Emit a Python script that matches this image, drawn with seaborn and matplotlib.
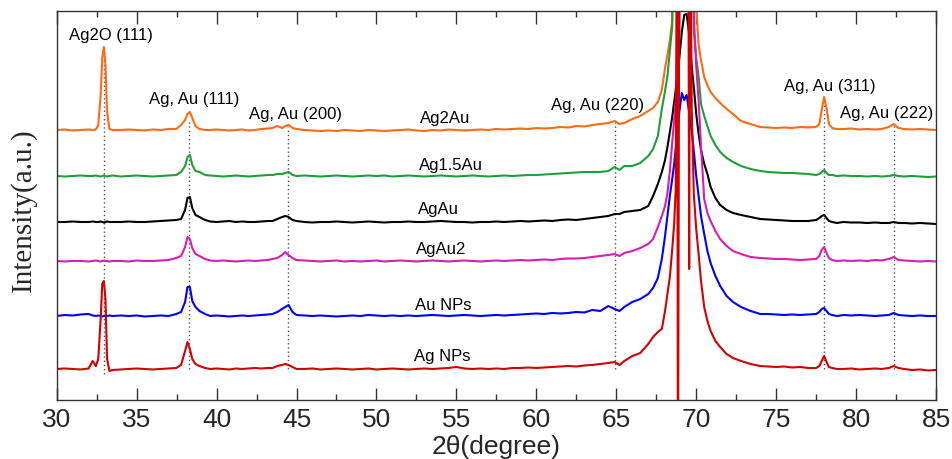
import numpy as np
import pandas as pd
import matplotlib
matplotlib.use("Agg")
import matplotlib.pyplot as plt
import seaborn as sns
from matplotlib.ticker import MultipleLocator

# 2-theta sampling positions (degrees); finer steps across the reflections
two_theta = [
    30.0, 30.5, 31.0, 31.5, 32.0,
    32.25, 32.45, 32.6, 32.75, 32.85, 32.95, 33.05, 33.15, 33.3, 33.5,
    34.0, 34.5, 35.0, 35.5, 36.0, 36.5, 37.0,
    37.48, 37.78, 38.03, 38.18, 38.33, 38.48, 38.68, 38.93, 39.28,
    39.6, 40.0, 40.4, 40.8, 41.2, 41.6, 42.0, 42.4, 42.8, 43.2,
    43.5, 43.8, 44.1, 44.3, 44.5, 44.75, 45.0,
    45.5, 46.0, 46.5, 47.0, 47.5, 48.0, 48.5, 49.0, 49.5, 50.0,
    50.5, 51.0, 51.5, 52.0, 52.5, 53.0, 53.5, 54.0, 54.5, 55.0,
    55.5, 56.0, 56.5, 57.0, 57.5, 58.0, 58.5, 59.0, 59.5, 60.0,
    60.5, 61.0, 61.5, 62.0, 62.5, 63.0, 63.5,
    64.0, 64.5, 64.9, 65.2, 65.5, 66.0, 66.5, 67.0, 67.3, 67.6,
    67.85, 68.05, 68.2, 68.35, 68.5, 68.62, 68.72, 68.80, 68.86, 68.95,
    69.1, 69.25, 69.4, 69.5, 69.56, 69.62, 69.72, 69.85, 70.0, 70.15,
    70.3, 70.5, 70.7, 70.9, 71.2, 71.5, 71.9, 72.3, 72.8, 73.4,
    74.0, 74.5, 75.0, 75.5, 76.0, 76.5, 77.0,
    77.5, 77.7, 77.85, 78.0, 78.15, 78.3, 78.5, 78.8,
    79.2, 79.7, 80.2, 80.7, 81.2, 81.6,
    82.05, 82.35, 82.65,
    83.0, 83.5, 84.0, 84.5, 85.0,
]

# Intensities (a.u.) of each sample, same sampling as two_theta
ag2au = [
    0, 0.5, -0.5, 0, 0.5,
    0, 0.5, 5, 35, 72, 83, 65, 18, 1, 0,
    0, 0.5, 0, -0.5, 0.5, 0, 1,
    1, 5, 10, 16, 18, 12, 4, 1, 0,
    0, 0.5, 0, -0.5, 0, 0.5, -0.5, 0, 1, 1.5,
    2, 4, 2, 4, 5, 2, 1,
    0, -0.5, -1, -0.5, -1, 0, -0.5, -1, 0, -0.5,
    -1, -0.5, 0, 0.5, -0.5, -1, 0, -0.5, 0.5, 0,
    -0.5, 0, 0.5, 0, 1, 0.5, 1, 1.5, 1, 2,
    1.5, 2, 3, 2.5, 4, 3.5, 5,
    6, 7, 9, 6, 7, 11, 14, 19, 22, 28,
    40, 62, 75, 90, 110, 500, 500, 500, 500, 500,
    500, 500, 500, 500, 500, 500, 500, 500, 125, 85,
    70, 53, 45, 38, 32, 27, 21, 16, 9, 6,
    3, 2.5, 2, 2.5, 2, 3, 2.5,
    3, 6, 20, 33, 22, 6, 2, 1,
    1, 1.5, 0.5, 1, 0.5, 1,
    3, 6, 2,
    1, 0.5, 1, 0.5, 0,
]

ag15au = [
    0, -0.5, 0, 0.5, 0,
    0, 0.5, 0, -0.5, 0, 0.5, 0, -0.5, 0, 0.5,
    -0.5, 0, 0.5, 0, -0.5, 0, 0.5,
    1, 4, 10, 19, 21, 11, 5, 4, 1,
    0.5, 0, -0.5, 0, 0.5, 0, -0.5, 0, 0.5, 1,
    1, 2, 2, 3, 4, 1, 0,
    0.5, 0, -0.5, 0, 0.5, 0, -0.5, 0, 0.5, 0,
    0.5, -0.5, 0, 0.5, 0, -0.5, 0, 0.5, 0, -0.5,
    0, 0.5, 0, -0.5, 0, 0.5, 0, 0.5, 1, 1,
    1.5, 2, 2.5, 3, 3.5, 4, 4,
    4, 5, 9, 6, 10, 10, 13, 20, 27, 40,
    67, 85, 100, 125, 150, 500, 500, 500, 500, 500,
    500, 500, 500, 500, 500, 500, 500, 144, 118, 100,
    72, 60, 50, 40, 31, 24, 18, 14, 10, 7,
    5, 4, 3.5, 3, 3, 2.5, 2,
    1, 2, 4, 6, 3, 1, 1, 0,
    0.5, 0, 0, -0.5, 0, -0.5,
    0, 1, 0,
    -0.5, 0, -0.5, -1, -0.5,
]

agau = [
    0, 0, 0.5, 0, 0,
    0.5, 0, 0, 0.5, 0, -0.5, 0, 0.5, 0, 0,
    0, 0.5, 0, 0, 0.5, 1, 1.5,
    2, 3, 12, 24, 25, 14, 7, 5, 2,
    0.5, 0, 0.5, 1, 0, 0.5, 0, 0, 0.5, 1,
    1, 3, 5, 6, 5, 2, 1,
    0, -0.5, 0, 0, 0.5, 0, -0.5, 0, 0.5, 0,
    -0.5, 0, 0, 0.5, 0, 0, 0.5, 1, 0.5, 0,
    0, -0.5, 0, 0, 0.5, 0, 0.5, 1, 0.5, 1,
    1.5, 1, 2, 2.5, 2, 3, 4,
    5, 6, 8, 8, 10, 11, 12, 16, 26, 38,
    50, 62, 75, 90, 105, 120, 133, 142, 150, 165,
    190, 207, 208, 196, 188, 175, 155, 135, 108, 88,
    72, 58, 48, 35, 24, 17, 12, 9, 7, 5,
    3, 2.5, 2, 1.5, 1, 1, 1,
    2, 4, 6, 7, 4, 1, 0, -1,
    0, -0.5, -0.5, -1, -0.5, -1,
    -1, 0, -1,
    -1, -1.5, -1, -1.5, -2,
]

agau2 = [
    0, -0.5, 0, 0, -0.5,
    0, 0.5, 0, -0.5, 0, 0.5, 0, 0, -0.5, 0,
    0, -0.5, 0.5, 0, 0, 0.5, 1,
    3, 5, 14, 24, 22, 13, 7, 5, 2,
    0.5, 0, 0.5, 0, -0.5, 0, 0.5, 0, 0.5, 1,
    2, 3, 6, 9, 6, 3, 1,
    0.5, 0, -0.5, 0, 0.5, -0.5, 0, -0.5, 0, 0.5,
    -0.5, 0, 0.5, 0, -0.5, 0, 0.5, 0, -0.5, 0,
    0.5, 0, -0.5, 0, 0.5, 0, 0.5, 1, 0.5, 1,
    1.5, 1, 2, 2.5, 2.5, 3, 4,
    5, 6, 7, 5, 8, 10, 13, 17, 22, 34,
    45, 55, 68, 90, 118, 140, 160, 180, 195, 225,
    500, 500, 500, 500, 500, 500, 500, 245, 195, 160,
    115, 62, 48, 40, 30, 22, 15, 10, 7, 4,
    3, 2.5, 2, 2, 1.5, 1, 1.5,
    2, 5, 11, 14, 8, 3, 1, 0,
    0.5, 0, 0.5, 0, 1, 0.5,
    2, 4, 1,
    0.5, 0, -0.5, 0, -0.5,
]

au_nps = [
    0, 1, 0.5, 1.5, 2,
    0.5, 0, 0.5, 0, -0.5, 0, 0.5, 0, 0.5, 0,
    0.5, 0, 0.5, -0.5, 0, 0.5, 0,
    2, 4, 14, 29, 29, 15, 9, 5, 2,
    0, 0.5, 0, -0.5, 0, 0.5, 0, 0.5, 1, 1.5,
    2, 4, 7, 9, 11, 4, 1,
    0.5, 0, 0.5, 0, -0.5, 0, 0.5, 0, 1, 0.5,
    0, 0.5, 0, 0.5, 0, 0.5, 1, 0.5, 0, 0.5,
    1, 0.5, 0, 0.5, 1, 0.5, 1, 1.5, 2, 2.5,
    2, 3, 2.5, 3, 4, 3.5, 6,
    5, 10, 7, 5, 9, 14, 17, 22, 28, 38,
    57, 80, 100, 120, 137, 152, 168, 180, 188, 205,
    223, 216, 221, 210, 203, 197, 185, 165, 140, 120,
    100, 82, 65, 53, 40, 30, 20, 14, 9, 5,
    2, 2, 1.5, 1, 1.5, 1, 1.5,
    2, 4, 7, 8, 5, 2, 1, 0,
    1, 0.5, 1, 0.5, 0, 0.5,
    1, 3, 1,
    0.5, 0, 0.5, 0, 0,
]

ag_nps = [
    0, 0.5, 0, -0.5, 0.5,
    8, 3, 10, 50, 85, 88, 70, 10, -2, -1,
    -0.5, 0, 0.5, 0, -0.5, 0, 0.5,
    1, 4, 18, 27, 20, 10, 5, 3, 1,
    0, 0.5, 0, -0.5, 0.5, 0, 0.5, 1, 0.5, 1,
    1, 3, 4, 5, 4, 2, 0,
    0, 0.5, -0.5, 0, 0.5, 0, -0.5, 0, 0.5, -0.5,
    0, 0.5, 0, -0.5, 0, 0.5, 0, 0.5, 1, 2,
    0.5, 0, 0.5, 0, 0.5, 0, 1, 1, 1.5, 1,
    1.5, 2, 2.5, 3, 2.5, 3.5, 4,
    5, 6, 7, 4, 8, 13, 16, 25, 32, 37,
    40, 58, 75, 92, 120, 145, 180, 500, -150, 500,
    500, 500, 500, 500, 100, 500, 260, 175, 140, 115,
    88, 62, 48, 38, 28, 22, 15, 11, 8, 5,
    3, 2.5, 2, 2.5, 1.5, 2, 1,
    1, 3, 8, 13, 7, 2, 1, 0,
    0, 0.5, -0.5, 0, 0.5, 0,
    1, 3, 1,
    0, -1, -0.5, -1.5, -1,
]

samples = ["Ag2Au", "Ag1.5Au", "AgAu", "AgAu2", "Au NPs", "Ag NPs"]
patterns = [ag2au, ag15au, agau, agau2, au_nps, ag_nps]
offsets = [270, 224, 178, 139, 84, 31]
colors = ["#ff6a13", "#1f9e3a", "#000000", "#d81eae", "#0000ff", "#d40000"]

# sample name positions (2theta, stacked intensity)
sample_label_x = [54.28, 54.63, 53.87, 54.03, 54.19, 54.12]
sample_label_y = [282, 235.5, 191.5, 151, 95.5, 44.5]

# reflection markers
peak_names = ["Ag2O (111)", "Ag, Au (111)", "Ag, Au (200)",
              "Ag, Au (220)", "Ag, Au (311)", "Ag, Au (222)"]
peak_pos = [32.97, 38.25, 44.46, 64.9, 78.02, 82.35]
peak_label_x = [33.40, 38.58, 44.91, 63.84, 78.33, 81.90]
peak_label_y = [365.5, 302, 286, 296, 315, 287.5]
guide_top = [353, 281, 273, 278, 301, 274]
guide_bottom = [26, 31, 31, 31, 31, 31]

for name, vals in zip(samples, patterns):
    if len(vals) != len(two_theta):
        raise ValueError(f"{name}: {len(vals)} values for {len(two_theta)} angles")

frames = []
for name, vals, off in zip(samples, patterns, offsets):
    frames.append(pd.DataFrame({
        "two_theta": two_theta,
        "intensity": vals,
        "stacked": np.asarray(vals, dtype=float) + off,
        "sample": name,
    }))
df = pd.concat(frames, ignore_index=True)

sns.set_style("ticks")
plt.rcParams["font.family"] = ["Liberation Sans", "DejaVu Sans"]

fig = plt.figure(figsize=(9.53, 4.6), dpi=100)
ax = fig.add_axes([0.0595, 0.1283, 0.9227, 0.8456])

ax.vlines(peak_pos, guide_bottom, guide_top, colors="#555555",
          linestyles=[(0, (1, 2))], linewidth=1.0, zorder=1)

sns.lineplot(data=df, x="two_theta", y="stacked", hue="sample",
             hue_order=samples, palette=colors, estimator=None, sort=False,
             legend=False, linewidth=1.5, ax=ax, zorder=2)

for txt, x, y in zip(samples, sample_label_x, sample_label_y):
    ax.text(x, y, txt, fontsize=12, ha="center", va="center", color="black")
for txt, x, y in zip(peak_names, peak_label_x, peak_label_y):
    ax.text(x, y, txt, fontsize=12, ha="center", va="center", color="black")

ax.set_xlim(30, 85)
ax.set_ylim(0, 389)
ax.set_xticks(np.arange(30, 86, 5))
ax.xaxis.set_minor_locator(MultipleLocator(2.5))
ax.tick_params(axis="x", which="major", direction="in", length=9, width=1,
               top=True, bottom=True, labelsize=19, pad=5, color="#333333")
ax.tick_params(axis="x", which="minor", direction="in", length=4.5, width=1,
               top=True, bottom=True, color="#333333")
ax.set_yticks([])
for sp in ax.spines.values():
    sp.set_linewidth(1.0)
    sp.set_color("#333333")

ax.set_xlabel("2θ(degree)", fontsize=19, va="center")
ax.xaxis.set_label_coords(0.5, -0.118)
ax.set_ylabel("Intensity(a.u.)", fontsize=21, family=["Liberation Serif"],
              va="center", ha="center")
ax.yaxis.set_label_coords(-0.0383, 0.491)

fig.savefig("out.png", dpi=100)
